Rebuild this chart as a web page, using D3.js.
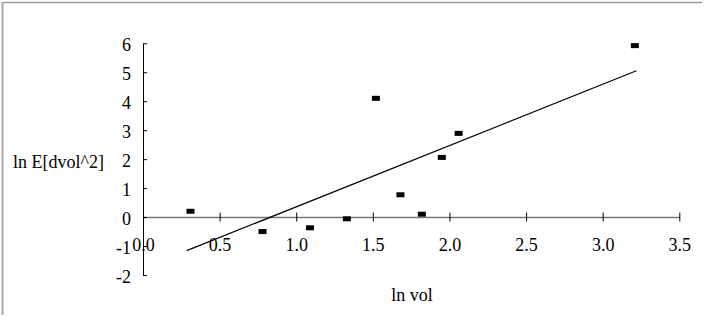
<!DOCTYPE html>
<html>
<head>
<meta charset="utf-8">
<script src="https://cdn.jsdelivr.net/npm/d3@7"></script>
<style>
  body { margin: 0; background: #fff; }
  svg text { font-family: 'Liberation Serif', 'Times New Roman', Times, serif !important; font-size: 18px; fill: #000; }
</style>
</head>
<body>
<div id="chart"></div>
<script>
// ln vol vs ln E[dvol^2]
const lnVol = [0.31, 0.78, 1.09, 1.33, 1.52, 1.68, 1.82, 1.95, 2.06, 3.21]
const lnEdvol2 = [0.2, -0.5, -0.37, -0.06, 4.1, 0.77, 0.1, 2.06, 2.89, 5.92]
// fitted line end points
const trendX = [0.285, 3.22]
const trendY = [-1.16, 5.05]
const xTicks = [0, 0.5, 1, 1.5, 2, 2.5, 3, 3.5]
const yTicks = [-2, -1, 0, 1, 2, 3, 4, 5, 6]

const width = 710
const height = 320
const serif = "'Liberation Serif', 'Times New Roman', Times, serif"

const svg = d3.select('#chart').append('svg')
  .attr('width', width)
  .attr('height', height)
  .attr('font-family', serif)

// partial frame (top and left)
svg.append('line')
  .attr('x1', 2).attr('y1', 2.5).attr('x2', 702).attr('y2', 2.5)
  .attr('stroke', '#999').attr('stroke-width', 1.5)
svg.append('line')
  .attr('x1', 2.5).attr('y1', 2).attr('x2', 2.5).attr('y2', 315)
  .attr('stroke', '#aaa').attr('stroke-width', 2)

const xScale = d3.scaleLinear().domain([0, 3.5]).range([143, 679.3])
const yScale = d3.scaleLinear().domain([-2, 6]).range([275, 43.3])

// x axis through y = 0
const xAxis = svg.append('g')
  .attr('transform', `translate(0, ${yScale(0)})`)
  .call(d3.axisBottom(xScale).tickValues(xTicks).tickFormat(d3.format('.1f')).tickSizeOuter(0).tickSizeInner(4.5))
  .attr('font-family', serif).attr('font-size', 18)
xAxis.select('.domain').attr('stroke', '#777').attr('stroke-width', 1.5)
xAxis.selectAll('.tick line').attr('y1', -4.5).attr('stroke', '#000')
xAxis.selectAll('.tick text')
  .attr('y', 34).attr('dy', 0)
  .attr('font-family', serif)

// y axis
const yAxis = svg.append('g')
  .attr('transform', `translate(${xScale(0)}, 0)`)
  .call(d3.axisLeft(yScale).tickValues(yTicks).tickFormat(d3.format('d')).tickSizeOuter(0).tickSizeInner(4))
  .attr('font-family', serif).attr('font-size', 18)
yAxis.select('.domain').attr('stroke', '#000')
yAxis.selectAll('.tick line').attr('x2', 4).attr('stroke', '#000')
yAxis.selectAll('.tick text')
  .attr('x', -12).attr('dy', '0.4em')
  .attr('font-family', serif)
  .text(d => d < 0 ? '-' + Math.abs(d) : d)

// trend line
const line = d3.line()
  .x(d => xScale(d[0]))
  .y(d => yScale(d[1]))
svg.append('path')
  .datum(d3.zip(trendX, trendY))
  .attr('d', line)
  .attr('fill', 'none')
  .attr('stroke', '#000')
  .attr('stroke-width', 1.2)

// markers
const markW = 8
const markH = 5
svg.selectAll('.marker')
  .data(d3.zip(lnVol, lnEdvol2))
  .enter().append('rect')
  .attr('class', 'marker')
  .attr('x', d => xScale(d[0]) - markW / 2)
  .attr('y', d => yScale(d[1]) - markH / 2)
  .attr('width', markW)
  .attr('height', markH)
  .attr('fill', '#000')

// axis titles
svg.append('text')
  .attr('x', 13).attr('y', 168)
  .text('ln E[dvol^2]')
svg.append('text')
  .attr('x', 412).attr('y', 301)
  .attr('text-anchor', 'middle')
  .text('ln vol')
</script>
</body>
</html>
